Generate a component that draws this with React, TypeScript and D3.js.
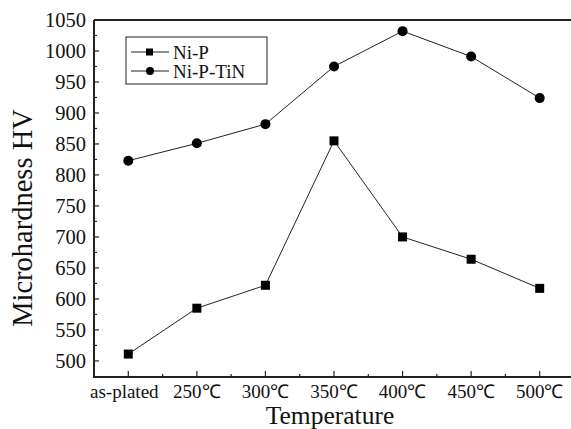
import React, { useEffect, useRef } from "react";
import * as d3 from "d3";

const categories = ["as-plated", "250℃", "300℃", "350℃", "400℃", "450℃", "500℃"];
const niP = [511, 585, 622, 855, 700, 664, 617];
const niPTiN = [823, 851, 882, 975, 1032, 991, 924];
const yTicks = [500, 550, 600, 650, 700, 750, 800, 850, 900, 950, 1000, 1050];

const W = 571, H = 429;
const font = "'Liberation Serif', 'Times New Roman', serif";

const App = () => {
  const ref = useRef<SVGSVGElement>(null);

  useEffect(() => {
    const svg = d3.select(ref.current);
    svg.selectAll("*").remove();

    const left = 94, right = 574, top = 20, bottom = 377;
    const step = (right - left) / categories.length;
    const x = (i: number) => left + step * (i + 0.5);
    const y = d3.scaleLinear().domain([474, 1050]).range([bottom, top]);

    const g = svg.append("g");

    // y ticks, minor every 25
    d3.range(500, 1051, 25).forEach(v => {
      const major = v % 50 === 0;
      g.append("line").attr("x1", left).attr("x2", left + (major ? 5 : 3))
        .attr("y1", y(v)).attr("y2", y(v)).attr("stroke", "#222").attr("stroke-width", 1.2);
    });
    yTicks.forEach(v => {
      g.append("text").attr("x", 86).attr("y", y(v)).attr("dy", "0.35em")
        .attr("text-anchor", "end").attr("font-family", font).attr("font-size", 20.5)
        .attr("fill", "#111").text(v);
    });

    categories.forEach((c, i) => {
      g.append("line").attr("x1", x(i)).attr("x2", x(i))
        .attr("y1", bottom).attr("y2", bottom - 6).attr("stroke", "#222").attr("stroke-width", 1.2);
      g.append("line").attr("x1", left + step * i).attr("x2", left + step * i)
        .attr("y1", bottom).attr("y2", bottom - 3).attr("stroke", "#222").attr("stroke-width", 1.2);
      g.append("text").attr("x", i === 0 ? x(i) - 4 : x(i)).attr("y", 398).attr("text-anchor", "middle")
        .attr("font-family", font).attr("font-size", 19).attr("fill", "#111").text(c);
    });

    // frame
    g.append("path").attr("d", `M${left},${top}H${right}M${left},${top}V${bottom}H${right}`)
      .attr("fill", "none").attr("stroke", "#222").attr("stroke-width", 2);

    const line = d3.line<number>().x((_, i) => x(i)).y(d => y(d));
    [niP, niPTiN].forEach(s => {
      g.append("path").attr("d", line(s)).attr("fill", "none").attr("stroke", "#222").attr("stroke-width", 1);
    });
    niP.forEach((v, i) => {
      g.append("rect").attr("x", x(i) - 4.5).attr("y", y(v) - 4.5).attr("width", 9).attr("height", 9).attr("fill", "#000");
    });
    niPTiN.forEach((v, i) => {
      g.append("circle").attr("cx", x(i)).attr("cy", y(v)).attr("r", 5).attr("fill", "#000");
    });

    // legend
    const lg = g.append("g");
    lg.append("rect").attr("x", 126).attr("y", 37).attr("width", 141).attr("height", 47)
      .attr("fill", "#fff").attr("stroke", "#222").attr("stroke-width", 1);
    [{ n: "Ni-P", sq: true, yy: 52 }, { n: "Ni-P-TiN", sq: false, yy: 71 }].forEach(e => {
      lg.append("line").attr("x1", 131).attr("x2", 169).attr("y1", e.yy).attr("y2", e.yy).attr("stroke", "#222");
      if (e.sq) lg.append("rect").attr("x", 146).attr("y", e.yy - 3.5).attr("width", 7).attr("height", 7).attr("fill", "#000");
      else lg.append("circle").attr("cx", 150).attr("cy", e.yy).attr("r", 4).attr("fill", "#000");
      lg.append("text").attr("x", 173).attr("y", e.yy).attr("dy", "0.35em").attr("font-family", font)
        .attr("font-size", 19).attr("fill", "#111").text(e.n);
    });

    // titles
    g.append("text").attr("transform", `translate(32,218) rotate(-90)`)
      .attr("text-anchor", "middle").attr("font-family", font).attr("font-size", 28.5).attr("fill", "#111")
      .text("Microhardness HV");
    g.append("text").attr("x", 330).attr("y", 423.5).attr("text-anchor", "middle")
      .attr("font-family", font).attr("font-size", 25.5).attr("fill", "#111").text("Temperature");
  }, []);

  return (
    <svg ref={ref} width={W} height={H}
      style={{ position: "absolute", left: 0, top: 0, background: "#fff" }} />
  );
};

export default App;
